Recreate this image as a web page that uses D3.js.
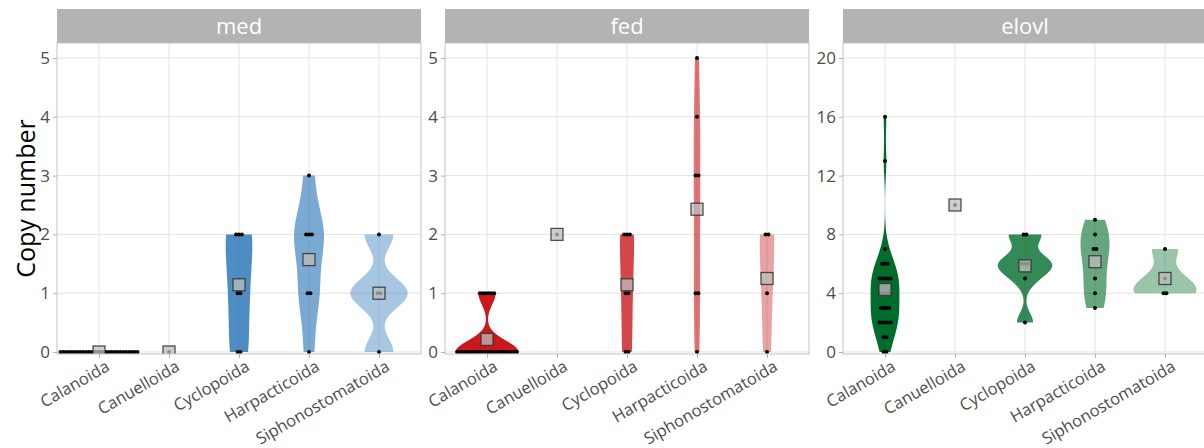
<!DOCTYPE html>
<html>
<head>
<meta charset="utf-8">
<script src="https://cdn.jsdelivr.net/npm/d3@7"></script>
<style>
  body { margin: 0; background: #fff; }
  text { font-family: "Open Sans", "Noto Sans", sans-serif; }
</style>
</head>
<body>
<svg id="chart" width="1204" height="448"></svg>
<script>
var orders = ["Calanoida", "Canuelloida", "Cyclopoida", "Harpacticoida", "Siphonostomatoida"];
var genes = ["med", "fed", "elovl"];

// copy numbers per species, one list per order
var medValues = [
  [0, 0, 0, 0, 0, 0, 0, 0, 0, 0, 0, 0, 0, 0, 0, 0, 0, 0, 0, 0, 0, 0, 0, 0, 0, 0, 0, 0],
  [0],
  [2, 2, 2, 1, 1, 0, 0],
  [3, 2, 2, 2, 1, 1, 0],
  [2, 1, 1, 0]
];
var fedValues = [
  [1, 1, 1, 1, 1, 1, 0, 0, 0, 0, 0, 0, 0, 0, 0, 0, 0, 0, 0, 0, 0, 0, 0, 0, 0, 0, 0, 0],
  [2],
  [2, 2, 2, 1, 1, 0, 0],
  [5, 4, 3, 3, 1, 1, 0],
  [2, 2, 1, 0]
];
var elovlValues = [
  [16, 13, 7, 6, 6, 6, 5, 5, 5, 5, 5, 4, 4, 4, 4, 3, 3, 3, 3, 2, 2, 2, 2, 2, 1, 1, 0, 0],
  [10],
  [8, 8, 6, 6, 6, 5, 2],
  [9, 8, 7, 7, 5, 4, 3],
  [7, 5, 4, 4]
];
var geneValues = [medValues, fedValues, elovlValues];

var geneColors = ["#2171b5", "#cb181d", "#006d2c"];
var orderAlpha = [1, 0.9, 0.8, 0.6, 0.4];
var yMax = [5, 5, 20];
var yTickStep = [1, 1, 4];

var panelX = [57, 445, 843],
  panelW = 364,
  stripTop = 9,
  stripH = 34,
  panelTop = 43,
  panelBottom = 354,
  dotGap = 2.85;

var svg = d3.select("#chart");

// same as R's bw.nrd0
function bwNrd0(x) {
  var hi = x.length > 1 ? d3.deviation(x) : 0;
  var iqr = d3.quantile(x, 0.75) - d3.quantile(x, 0.25);
  var lo = Math.min(hi, iqr / 1.34);
  if (!lo) lo = hi || Math.abs(x[0]) || 1;
  return 0.9 * lo * Math.pow(x.length, -0.2);
}

function kde(x, bw, y) {
  var s = 0;
  x.forEach((v) => {
    var u = (y - v) / bw;
    s += Math.exp(-0.5 * u * u);
  });
  return s / (x.length * bw * Math.sqrt(2 * Math.PI));
}

svg.append("text")
  .attr("transform", "translate(35," + (panelTop + panelBottom) / 2 + ") rotate(-90)")
  .attr("text-anchor", "middle")
  .style("font-size", "25px")
  .style("fill", "#000")
  .text("Copy number");

genes.forEach((gene, gi) => {
  var x0 = panelX[gi];
  var g = svg.append("g").attr("transform", "translate(" + x0 + ",0)");

  // strip
  g.append("rect")
    .attr("x", 0).attr("y", stripTop)
    .attr("width", panelW).attr("height", stripH)
    .attr("fill", "#b3b3b3");
  g.append("text")
    .attr("x", panelW / 2).attr("y", stripTop + stripH / 2)
    .attr("dy", "0.36em")
    .attr("text-anchor", "middle")
    .style("font-size", "22px")
    .style("fill", "#fff")
    .text(gene);

  var x = d3.scalePoint().domain(orders).range([0, panelW]).padding(0.6);
  var step = x.step();
  var y = d3.scaleLinear()
    .domain([0, yMax[gi]])
    .range([panelBottom - 2, panelTop + 15]);
  var yTicks = d3.range(0, yMax[gi] + 0.001, yTickStep[gi]);

  var clipId = "clip" + gi;
  g.append("clipPath").attr("id", clipId)
    .append("rect")
    .attr("x", 0).attr("y", panelTop)
    .attr("width", panelW).attr("height", panelBottom - panelTop);

  // grid
  var grid = g.append("g");
  grid.selectAll(".hy").data(yTicks).enter().append("line")
    .attr("x1", 0).attr("x2", panelW)
    .attr("y1", (d) => y(d)).attr("y2", (d) => y(d))
    .attr("stroke", "#e3e3e3").attr("stroke-width", 1);
  grid.selectAll(".vx").data(orders).enter().append("line")
    .attr("x1", (d) => x(d)).attr("x2", (d) => x(d))
    .attr("y1", panelTop).attr("y2", panelBottom)
    .attr("stroke", "#e3e3e3").attr("stroke-width", 1);

  var plot = g.append("g").attr("clip-path", "url(#" + clipId + ")");

  // densities, scaled by area over the whole panel
  var groups = orders.map((o, oi) => {
    var vals = geneValues[gi][oi];
    var grp = {order: o, oi: oi, values: vals, mean: d3.mean(vals), dens: null};
    if (vals.length >= 2) {
      var bw = bwNrd0(vals);
      var lo = d3.min(vals), hi = d3.max(vals);
      grp.dens = d3.range(512).map((i) => {
        var yy = lo + (hi - lo) * i / 511;
        return {y: yy, d: kde(vals, bw, yy)};
      });
    }
    return grp;
  });
  var maxD = d3.max(groups, (grp) => grp.dens ? d3.max(grp.dens, (p) => p.d) : 0);

  groups.forEach((grp) => {
    if (!grp.dens) return;
    var cx = x(grp.order);
    var half = (p) => 0.45 * step * p.d / maxD;
    var area = d3.area()
      .y((p) => y(p.y))
      .x0((p) => cx - half(p))
      .x1((p) => cx + half(p));
    plot.append("path")
      .attr("d", area(grp.dens))
      .attr("fill", geneColors[gi])
      .attr("fill-opacity", orderAlpha[grp.oi])
      .attr("stroke", "none");
  });

  // beeswarm-style points
  groups.forEach((grp) => {
    var cx = x(grp.order);
    var byVal = d3.group(grp.values, (v) => v);
    byVal.forEach((list, v) => {
      var k = list.length;
      list.forEach((_, i) => {
        plot.append("circle")
          .attr("cx", cx + (i - (k - 1) / 2) * dotGap)
          .attr("cy", y(v))
          .attr("r", 2)
          .attr("fill", "#000");
      });
    });
  });

  // mean squares
  plot.selectAll(".mean").data(groups).enter().append("rect")
    .attr("x", (d) => x(d.order) - 6)
    .attr("y", (d) => y(d.mean) - 6)
    .attr("width", 12).attr("height", 12)
    .attr("fill", "#bebebe").attr("fill-opacity", 0.75)
    .attr("stroke", "#333").attr("stroke-opacity", 0.85)
    .attr("stroke-width", 1.3);

  // border
  g.append("rect")
    .attr("x", 0).attr("y", panelTop)
    .attr("width", panelW).attr("height", panelBottom - panelTop)
    .attr("fill", "none").attr("stroke", "#c4c4c4").attr("stroke-width", 1);

  // axes
  var ya = g.append("g")
    .call(d3.axisLeft(y).tickValues(yTicks).tickSize(4).tickPadding(3).tickFormat(d3.format("d")));
  ya.select(".domain").remove();
  ya.selectAll("line").attr("stroke", "#b3b3b3");
  ya.selectAll("text").style("font-size", "17px").style("fill", "#4d4d4d")
    .style("font-family", "'Open Sans', 'Noto Sans', sans-serif");

  var xa = g.append("g")
    .attr("transform", "translate(0," + panelBottom + ")")
    .call(d3.axisBottom(x).tickSize(4).tickPadding(3));
  xa.select(".domain").remove();
  xa.selectAll("line").attr("stroke", "#b3b3b3");
  xa.selectAll("text")
    .attr("text-anchor", "end")
    .attr("transform", "translate(5,5) rotate(-30)")
    .attr("dy", "0.75em")
    .attr("y", 0)
    .style("font-size", "16.5px").style("fill", "#4d4d4d")
    .style("font-family", "'Open Sans', 'Noto Sans', sans-serif");
});
</script>
</body>
</html>
